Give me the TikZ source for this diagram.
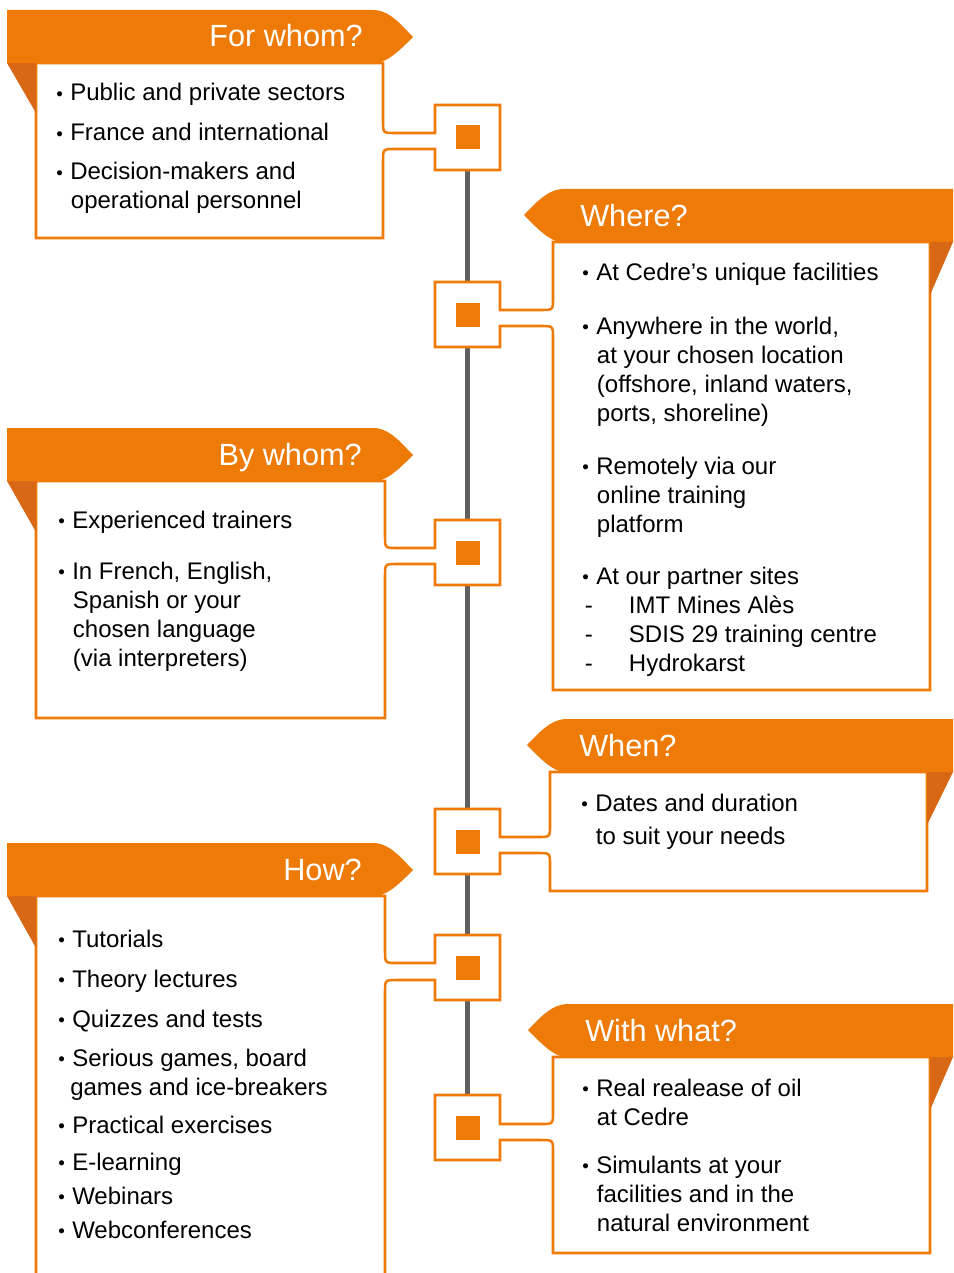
\documentclass[tikz,border=0pt]{standalone}
\usepackage{fontspec}
\setmainfont{Liberation Sans}
\usepackage{graphicx}
\usepackage{xcolor}
\usepackage{tikz}
\definecolor{cedre}{RGB}{238,123,8}
\definecolor{cedredark}{RGB}{217,104,22}
\definecolor{spinegray}{RGB}{96,96,96}
\newcommand{\bul}{\makebox[10.5pt][l]{\raisebox{0.5pt}{\scalebox{0.78}{\textbullet}}}}
\newcommand{\ind}{\hspace*{11pt}}
\newcommand{\dashitem}{\makebox[35pt][l]{\hspace{2pt}-}}
\newcommand{\lns}[1]{\begin{tabular}[t]{@{}l@{}}#1\end{tabular}}
\tikzset{
    hdr/.style = {fill=cedre},
    fold/.style = {fill=cedredark},
    boxline/.style = {draw=cedre, fill=white, line width=1.9pt},
    spine/.style = {draw=spinegray, line width=3.75pt},
    dot/.style = {rectangle, fill=cedre, minimum size=18pt, inner sep=0pt},
    title/.style = {text=white, inner sep=0pt, font=\fontsize{23}{26}\selectfont},
    itm/.style = {inner sep=0pt, anchor=base west, font=\fontsize{18}{21.75}\selectfont}
}

\begin{document}
\begin{tikzpicture}[x=0.75pt, y=-0.75pt]
    \useasboundingbox (0,0) rectangle (953,1273);
    \clip (0,0) rectangle (953,1273);

    \coordinate (s1) at (467.5,137.5);
    \coordinate (s2) at (467.5,314.5);
    \coordinate (s3) at (467.5,552.5);
    \coordinate (s4) at (467.5,841.5);
    \coordinate (s5) at (467.5,967.5);
    \coordinate (s6) at (467.5,1127.5);
    \draw[spine] (s1) -- (s6);

    % boxes with their connector squares
    \draw[boxline] (36,63) -- (383,63) -- (383,121) .. controls (383,133) .. (395,133) -- (435,133) -- (435,105) -- (500,105) -- (500,170) -- (435,170) -- (435,149) -- (395,149) .. controls (383,149) .. (383,161) -- (383,238) -- (36,238) -- cycle;
    \draw[boxline] (930,242) -- (553,242) -- (553,298) .. controls (553,310) .. (541,310) -- (500,310) -- (500,282) -- (435,282) -- (435,347) -- (500,347) -- (500,326) -- (541,326) .. controls (553,326) .. (553,338) -- (553,690) -- (930,690) -- cycle;
    \draw[boxline] (36,481) -- (385,481) -- (385,536) .. controls (385,548) .. (397,548) -- (435,548) -- (435,520) -- (500,520) -- (500,585) -- (435,585) -- (435,564) -- (397,564) .. controls (385,564) .. (385,576) -- (385,718) -- (36,718) -- cycle;
    \draw[boxline] (927,772) -- (550,772) -- (550,825) .. controls (550,837) .. (538,837) -- (500,837) -- (500,809) -- (435,809) -- (435,874) -- (500,874) -- (500,853) -- (538,853) .. controls (550,853) .. (550,865) -- (550,891) -- (927,891) -- cycle;
    \draw[boxline] (36,896) -- (385,896) -- (385,951) .. controls (385,963) .. (397,963) -- (435,963) -- (435,935) -- (500,935) -- (500,1000) -- (435,1000) -- (435,980) -- (397,980) .. controls (385,980) .. (385,992) -- (385,1290) -- (36,1290) -- cycle;
    \draw[boxline] (930,1057) -- (553,1057) -- (553,1112) .. controls (553,1124) .. (541,1124) -- (500,1124) -- (500,1095) -- (435,1095) -- (435,1160) -- (500,1160) -- (500,1140) -- (541,1140) .. controls (553,1140) .. (553,1152) -- (553,1253) -- (930,1253) -- cycle;

    \foreach \s in {1,...,6}
        \node[dot] (d\s) at (s\s) {};

    % folds
    \fill[fold] (7,63) -- (36,63) -- (36,113) -- cycle;
    \fill[fold] (930,242) -- (953,242) -- (930,295) -- cycle;
    \fill[fold] (7,481) -- (36,481) -- (36,532) -- cycle;
    \fill[fold] (927,772) -- (953,772) -- (927,825) -- cycle;
    \fill[fold] (7,896) -- (36,896) -- (36,948) -- cycle;
    \fill[fold] (930,1057) -- (953,1057) -- (930,1110) -- cycle;

    % headers
    \fill[hdr] (7,10) -- (373,10) .. controls (390,10) and (402,26) .. (413,37) .. controls (403,47) and (388,63) .. (375,63) -- (7,63) -- cycle;
    \fill[hdr] (953,189) -- (564,189) .. controls (547,189) and (535,204) .. (524,215) .. controls (534,225) and (549,242) .. (562,242) -- (953,242) -- cycle;
    \fill[hdr] (7,428) -- (373,428) .. controls (390,428) and (402,444) .. (413,455) .. controls (403,465) and (388,481) .. (375,481) -- (7,481) -- cycle;
    \fill[hdr] (953,719) -- (567,719) .. controls (550,719) and (538,734) .. (527,745) .. controls (537,755) and (552,772) .. (565,772) -- (953,772) -- cycle;
    \fill[hdr] (7,843) -- (373,843) .. controls (390,843) and (402,859) .. (413,870) .. controls (403,880) and (388,896) .. (375,896) -- (7,896) -- cycle;
    \fill[hdr] (953,1004) -- (568,1004) .. controls (551,1004) and (539,1019) .. (528,1030) .. controls (538,1040) and (553,1057) .. (566,1057) -- (953,1057) -- cycle;

    \node[title, anchor=base east] (forwhom) at (363,47) {For whom?};
    \node[title, anchor=base west] (where) at (580,227) {Where?};
    \node[title, anchor=base east] (bywhom) at (362,465) {By whom?};
    \node[title, anchor=base west] (when) at (579,756) {When?};
    \node[title, anchor=base east] (how) at (362,880) {How?};
    \node[title, anchor=base west] (withwhat) at (585,1041) {With what?};

    % for whom
    \node[itm] (fw1) at (56,101) {\bul Public and private sectors};
    \node[itm] (fw2) at (56,141) {\bul France and international};
    \node[itm] (fw3) at (56,180) {\lns{\bul Decision-makers and\\\ind operational personnel}};

    % where
    \node[itm] (wh1) at (582,280) {\bul At Cedre's unique facilities};
    \node[itm] (wh2) at (582,334) {\lns{\bul Anywhere in the world,\\\ind at your chosen location\\\ind (offshore, inland waters,\\\ind ports, shoreline)}};
    \node[itm] (wh3) at (582,474) {\lns{\bul Remotely via our\\\ind online training\\\ind platform}};
    \node[itm] (wh4) at (582,584) {\lns{\bul At our partner sites\\\dashitem IMT Mines Alès\\\dashitem SDIS 29 training centre\\\dashitem Hydrokarst}};

    % by whom
    \node[itm] (bw1) at (58,528) {\bul Experienced trainers};
    \node[itm] (bw2) at (58,579) {\lns{\bul In French, English,\\\ind Spanish or your\\\ind chosen language\\\ind (via interpreters)}};

    % when
    \node[itm] (wn1) at (581,811) {\lns{\bul Dates and duration\\[3pt]\ind to suit your needs}};

    % how
    \node[itm] (hw1) at (58,947) {\bul Tutorials};
    \node[itm] (hw2) at (58,987) {\bul Theory lectures};
    \node[itm] (hw3) at (58,1027) {\bul Quizzes and tests};
    \node[itm] (hw4) at (58,1066) {\lns{\bul Serious games, board\\\hspace*{9pt}games and ice-breakers}};
    \node[itm] (hw5) at (58,1133) {\bul Practical exercises};
    \node[itm] (hw6) at (58,1170) {\bul E-learning};
    \node[itm] (hw7) at (58,1204) {\bul Webinars};
    \node[itm] (hw8) at (58,1238) {\bul Webconferences};

    % with what
    \node[itm] (ww1) at (582,1096) {\lns{\bul Real realease of oil\\\ind at Cedre}};
    \node[itm] (ww2) at (582,1173) {\lns{\bul Simulants at your\\\ind facilities and in the\\\ind natural environment}};
\end{tikzpicture}
\end{document}
